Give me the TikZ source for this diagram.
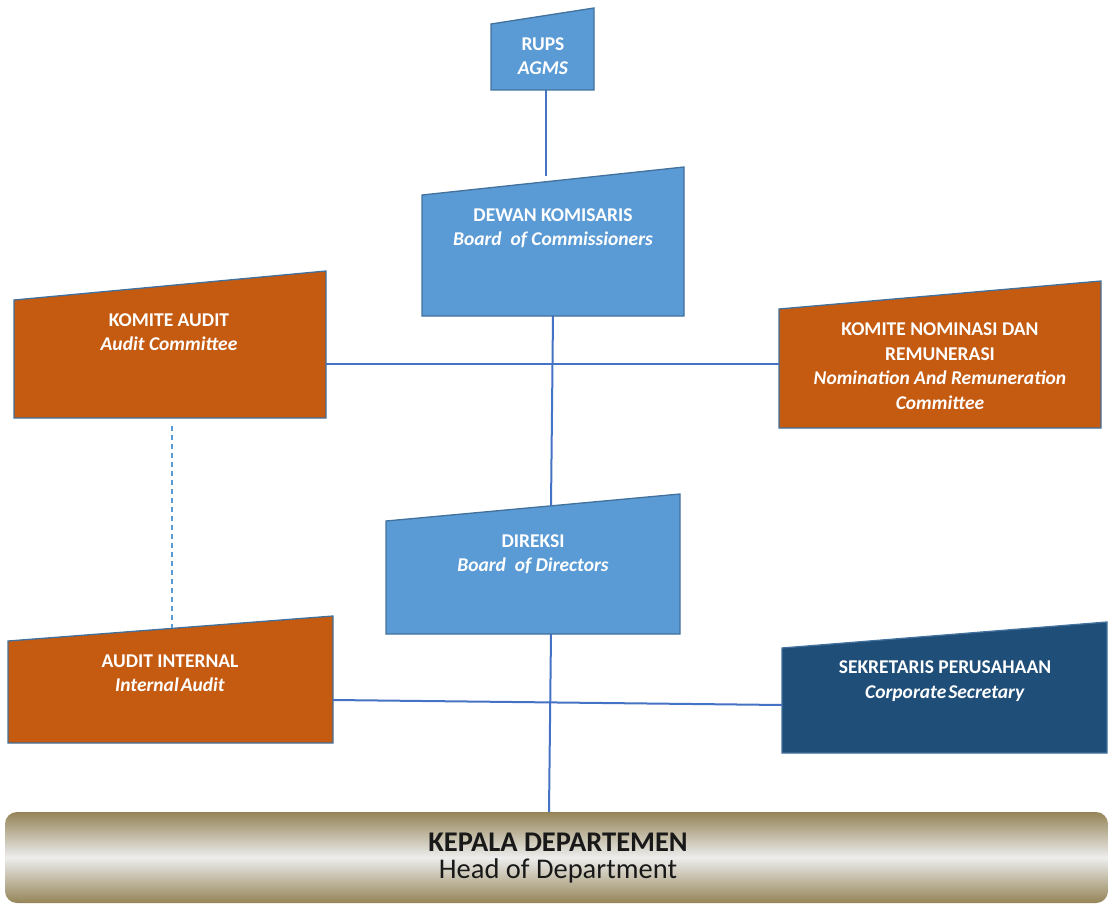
\documentclass[tikz,border=0pt]{standalone}
\usepackage{fontspec}
\setmainfont{Carlito}
\usetikzlibrary{calc}
\definecolor{lblue}{HTML}{5B9BD5}
\definecolor{bordc}{HTML}{41719C}
\definecolor{orng}{HTML}{C55A11}
\definecolor{dblue}{HTML}{1F4E79}
\definecolor{linec}{HTML}{4472C4}
\definecolor{tanc}{HTML}{948457}
\definecolor{barmid}{HTML}{EDEDED}
% x-left, x-right, y-top-left, y-top-right, y-bottom, fill
\newcommand\qbox[6]{%
  \filldraw[boxline,fill=#6] (#1,#5) -- (#2,#5) -- (#2,#4) -- (#1,#3) -- cycle;}
\begin{document}
\begin{tikzpicture}[x=1pt,y=-1pt,
  boxline/.style={draw=bordc,line width=1.3pt,line join=miter},
  boxtext/.style={text=white,align=center,font=\fontsize{19.5}{24.5}\selectfont\bfseries,inner sep=0pt},
  conn/.style={draw=linec,line width=2pt},
  dashconn/.style={draw=lblue,line width=1.2pt,dash pattern=on 5pt off 4pt}]
\useasboundingbox (0,0) rectangle (1109,904);

% boxes
\qbox{491}{594}{24}{8}{90}{lblue}
\qbox{422}{684}{195}{167}{316}{lblue}
\qbox{14}{326}{300}{271}{418}{orng}
\qbox{779}{1101}{309}{281}{428}{orng}
\qbox{386}{680}{521}{494}{634}{lblue}
\qbox{8}{333}{641}{616}{743}{orng}
\qbox{782}{1107}{648}{622}{753}{dblue}

% bottom bar
\shade[rounded corners=12pt,top color=tanc,bottom color=tanc,middle color=barmid]
  (5,812) rectangle (1108,903);

% texts
\node[boxtext] (rups) at (543,56) {RUPS\\\textit{AGMS}};
\node[boxtext] (dewan) at (553,228) {DEWAN KOMISARIS\\\textit{Board\ \ of Commissioners}};
\node[boxtext] (kaudit) at (169,332) {KOMITE AUDIT\\\textit{Audit Committee}};
\node[boxtext] (knom) at (940,366) {KOMITE NOMINASI DAN\\REMUNERASI\\\textit{Nomination And Remuneration}\\\textit{Committee}};
\node[boxtext] (direksi) at (533,554) {DIREKSI\\\textit{Board\ \ of Directors}};
\node[boxtext] (aint) at (170,673) {AUDIT INTERNAL\\\textit{Internal\hspace{2pt}Audit}};
\node[boxtext] (sekr) at (945,681) {SEKRETARIS PERUSAHAAN\\\textit{Corporate\hspace{2pt}Secretary}};
\node[align=center,inner sep=0pt,text=black!90,font=\fontsize{28.5}{26.5}\selectfont] (kepala) at (558,858)
  {\textbf{KEPALA DEPARTEMEN}\\Head of Department};

% connection points
\coordinate (rups-s) at (546,90);
\coordinate (dewan-n) at (546,176);
\coordinate (dewan-s) at (553,316);
\coordinate (direksi-n) at (551,506);
\coordinate (direksi-s) at (551,634);
\coordinate (kepala-n) at (549,812);
\coordinate (kaudit-e) at (326,364);
\coordinate (knom-w) at (779,364);
\coordinate (kaudit-s) at (172,426);
\coordinate (aint-n) at (172,628);
\coordinate (aint-e) at (333,700);
\coordinate (sekr-w) at (782,705);

% connectors
\draw[conn] (rups-s) -- (dewan-n);
\draw[conn] (dewan-s) -- (direksi-n);
\draw[conn] (direksi-s) -- (kepala-n);
\draw[conn] (kaudit-e) -- (knom-w);
\draw[conn] (aint-e) -- (sekr-w);
\draw[dashconn] (kaudit-s) -- (aint-n);
\end{tikzpicture}
\end{document}
